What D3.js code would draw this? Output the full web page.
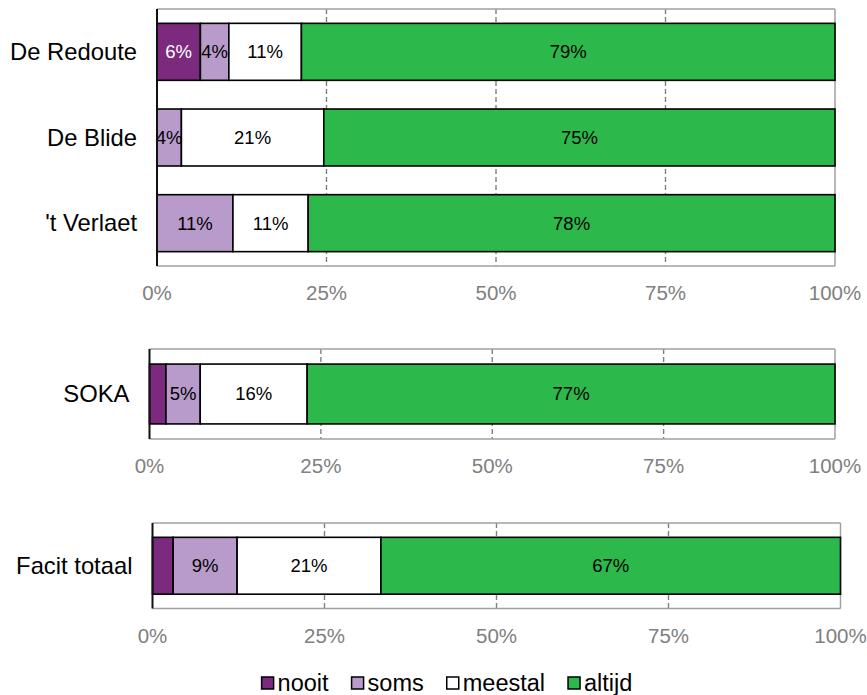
<!DOCTYPE html>
<html><head><meta charset="utf-8">
<script src="https://cdn.jsdelivr.net/npm/d3@7"></script>
<style>body{margin:0;background:#fff}svg{display:block}text{font-family:"Liberation Sans",Arial,sans-serif}</style>
</head><body><svg id="c" width="867" height="695"></svg>
<script>
// ---- data ----
const seriesNames = ["nooit", "soms", "meestal", "altijd"];
const seriesColors = ["#7B2A7E", "#B89BCB", "#FFFFFF", "#2DB84B"];
const labelColors = ["#FFFFFF", "#000000", "#000000", "#000000"];
const tickValues = [0, 25, 50, 75, 100];
const tickLabels = ["0%", "25%", "50%", "75%", "100%"];

const panel1Categories = ["De Redoute", "De Blide", "'t Verlaet"];
const panel1Nooit   = [6.4, 0, 0];
const panel1Soms    = [4.2, 3.6, 11.2];
const panel1Meestal = [10.7, 21.0, 11.1];
const panel1Altijd  = [78.7, 75.4, 77.7];

const panel2Categories = ["SOKA"];
const panel2Nooit   = [2.4];
const panel2Soms    = [5.0];
const panel2Meestal = [15.6];
const panel2Altijd  = [77.0];

const panel3Categories = ["Facit totaal"];
const panel3Nooit   = [3.0];
const panel3Soms    = [9.3];
const panel3Meestal = [20.9];
const panel3Altijd  = [66.8];

// ---- layout ----
const svg = d3.select("#c");
const panels = [
  {cats: panel1Categories, vals: [panel1Nooit, panel1Soms, panel1Meestal, panel1Altijd], x0: 157, x1: 835, y0: 9, y1: 266},
  {cats: panel2Categories, vals: [panel2Nooit, panel2Soms, panel2Meestal, panel2Altijd], x0: 149.5, x1: 835, y0: 349, y1: 439},
  {cats: panel3Categories, vals: [panel3Nooit, panel3Soms, panel3Meestal, panel3Altijd], x0: 152.5, x1: 840.5, y0: 523, y1: 608.5}
];

panels.forEach(p => {
  const x = d3.scaleLinear().domain([0, 100]).range([p.x0, p.x1]);
  const y = d3.scaleBand().domain(p.cats).range([p.y0, p.y1]).paddingInner(0.335).paddingOuter(0.1675);
  const g = svg.append("g");

  // grid (dashed)
  g.selectAll(".grid").data(tickValues.slice(1, -1)).enter().append("line")
    .attr("x1", d => x(d)).attr("x2", d => x(d))
    .attr("y1", p.y0).attr("y2", p.y1)
    .attr("stroke", "#808080").attr("stroke-width", 1.4).attr("stroke-dasharray", "5,3");

  // frame: top, right, bottom in gray
  g.append("line").attr("x1", p.x0).attr("x2", p.x1).attr("y1", p.y0).attr("y2", p.y0).attr("stroke", "#a0a0a0").attr("stroke-width", 1.5);
  g.append("line").attr("x1", p.x0).attr("x2", p.x1).attr("y1", p.y1).attr("y2", p.y1).attr("stroke", "#a0a0a0").attr("stroke-width", 1.5);
  g.append("line").attr("x1", p.x1).attr("x2", p.x1).attr("y1", p.y0).attr("y2", p.y1).attr("stroke", "#a0a0a0").attr("stroke-width", 1.5);

  // stacked bars
  const rows = p.cats.map((c, i) => {
    let acc = 0;
    return seriesNames.map((s, k) => {
      const v = p.vals[k][i];
      const seg = {cat: c, k, v, start: acc, end: acc + v};
      acc += v;
      return seg;
    });
  }).flat().filter(d => d.v > 0);

  g.selectAll(".bar").data(rows).enter().append("rect")
    .attr("x", d => x(d.start)).attr("width", d => x(d.end) - x(d.start))
    .attr("y", d => y(d.cat)).attr("height", y.bandwidth())
    .attr("fill", d => seriesColors[d.k]).attr("stroke", "#000").attr("stroke-width", 1.6);

  g.selectAll(".lbl").data(rows.filter(d => d.v >= 3.5)).enter().append("text")
    .attr("x", d => x((d.start + d.end) / 2)).attr("y", d => y(d.cat) + y.bandwidth() / 2)
    .attr("dy", "0.35em").attr("text-anchor", "middle")
    .attr("font-size", 18.5).attr("fill", d => labelColors[d.k])
    .text(d => Math.round(d.v) + "%");

  // left axis line
  g.append("line").attr("x1", p.x0).attr("x2", p.x0).attr("y1", p.y0).attr("y2", p.y1).attr("stroke", "#111").attr("stroke-width", 2);

  // category labels
  g.selectAll(".cat").data(p.cats).enter().append("text")
    .attr("x", p.x0 - 20).attr("y", d => y(d) + y.bandwidth() / 2)
    .attr("dy", "0.35em").attr("text-anchor", "end")
    .attr("font-size", 23.8).attr("fill", "#000").text(d => d);

  // x tick labels
  g.selectAll(".tick").data(tickValues).enter().append("text")
    .attr("x", d => x(d)).attr("y", p.y1 + 27).attr("dy", "0.35em")
    .attr("text-anchor", "middle").attr("font-size", 20.5).attr("fill", "#808080")
    .text((d, i) => tickLabels[i]);
});

// ---- legend ----
const leg = svg.append("g");
let lx = 0;
seriesNames.forEach((s, k) => {
  const it = leg.append("g").attr("transform", `translate(${lx},0)`);
  it.append("rect").attr("x", 0).attr("y", -6).attr("width", 12).attr("height", 12)
    .attr("fill", seriesColors[k]).attr("stroke", "#000").attr("stroke-width", 1.5);
  const t = it.append("text").attr("x", 16).attr("y", 0).attr("dy", "0.35em")
    .attr("font-size", 23.5).attr("fill", "#000").text(s);
  const w = 16 + t.node().getComputedTextLength();
  lx += w + 23;
});
const totalW = lx - 23;
leg.attr("transform", `translate(${447 - totalW / 2},683)`);
</script></body></html>
